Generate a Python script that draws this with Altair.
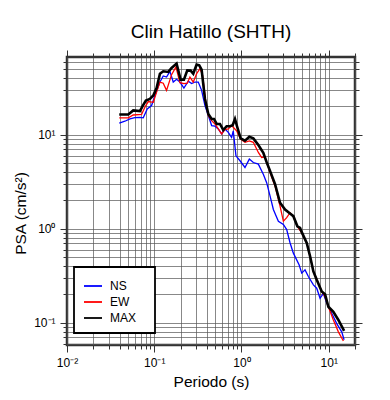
import altair as alt
import pandas as pd

# ---- data ----
series_names = ["NS", "EW", "MAX"]
series_colors = ["#0000ff", "#ff0000", "#000000"]

ns_period = [0.0397, 0.0461, 0.0526, 0.0600, 0.0685, 0.0748, 0.0831, 0.0932, 0.1018, 0.1162,
             0.1268, 0.1384, 0.1512, 0.1651, 0.1803, 0.1969, 0.2188, 0.2455, 0.2681, 0.2928,
             0.3197, 0.3491, 0.3812, 0.4166, 0.4548, 0.4966, 0.5421, 0.5918, 0.6461, 0.7054,
             0.7702, 0.8048, 0.8644, 0.9612, 1.0964, 1.2297, 1.3669, 1.5601, 1.779, 1.943,
             2.124, 2.319, 2.647, 3.020, 3.297, 3.600, 3.931, 4.572, 4.903, 5.350,
             5.842, 6.670, 7.282, 7.950, 8.680, 9.476, 10.82, 12.35, 14.09, 15.00]
ns_psa = [13.3, 13.9, 14.7, 15.2, 15.3, 15.1, 18.8, 20.4, 26.1, 36.3,
          42.1, 41.0, 47.2, 36.3, 38.8, 36.3, 31.3, 37.0, 35.0, 36.3,
          36.3, 29.6, 20.4, 16.0, 12.5, 12.3, 11.5, 10.2, 11.5, 10.6,
          9.36, 11.0, 5.96, 5.28, 4.48, 5.5, 5.06, 4.86, 3.8, 3.09,
          2.23, 1.60, 1.20, 1.11, 0.98, 0.71, 0.55, 0.414, 0.337, 0.365,
          0.31, 0.253, 0.233, 0.182, 0.205, 0.162, 0.126, 0.098, 0.080, 0.066]

ew_period = [0.0397, 0.0504, 0.0574, 0.0716, 0.0781, 0.0854, 0.0975, 0.1064, 0.1162, 0.1268,
             0.1384, 0.1580, 0.1773, 0.1969, 0.2188, 0.2391, 0.2566, 0.2800, 0.3059, 0.3340,
             0.3583, 0.3914, 0.4166, 0.4548, 0.4966, 0.5421, 0.5918, 0.6461, 0.7054, 0.7702,
             0.8048, 0.8786, 0.9775, 1.0964, 1.2297, 1.3669, 1.5601, 1.7035, 1.860, 2.124,
             2.424, 2.766, 3.020, 3.297, 3.600, 3.931, 4.371, 4.903, 5.595, 6.109,
             6.670, 7.282, 8.309, 9.072, 9.905, 11.30, 12.90, 14.72]
ew_psa = [15.1, 15.1, 16.2, 16.4, 19.6, 22.5, 22.1, 28.4, 36.3, 35.3,
          29.6, 43.5, 52.5, 35.7, 34.9, 35.3, 41.0, 36.3, 44.5, 50.4,
          42.8, 21.3, 16.0, 14.1, 13.0, 11.5, 10.2, 11.3, 11.5, 12.5,
          12.0, 11.0, 9.0, 8.3, 8.6, 8.3, 6.47, 5.72, 5.8, 3.95,
          2.85, 1.74, 1.20, 1.31, 1.48, 1.36, 1.06, 0.90, 0.707, 0.51,
          0.35, 0.29, 0.215, 0.19, 0.148, 0.107, 0.080, 0.064]

max_period = [0.0397, 0.0504, 0.0574, 0.0685, 0.0735, 0.0802, 0.0892, 0.0975, 0.1064, 0.1162,
              0.1268, 0.1449, 0.1580, 0.1803, 0.2004, 0.2188, 0.2391, 0.2611, 0.2800, 0.3059,
              0.3281, 0.3491, 0.3812, 0.4166, 0.4548, 0.4842, 0.5191, 0.5667, 0.6187, 0.6755,
              0.7375, 0.7917, 0.8420, 0.8955, 0.9775, 1.0964, 1.2297, 1.3669, 1.5601, 1.779,
              1.943, 2.124, 2.424, 2.766, 3.158, 3.600, 3.931, 4.371, 4.693, 4.903,
              5.595, 6.109, 6.670, 7.282, 8.309, 9.072, 9.905, 11.30, 12.90, 15.00]
max_psa = [16.4, 16.4, 18.1, 17.8, 20.1, 23.1, 24.0, 26.1, 31.3, 44.5,
           47.2, 46.5, 51.2, 57.0, 38.5, 38.5, 48.3, 48.0, 44.5, 55.6,
           54.7, 49.2, 24.0, 16.6, 14.7, 14.7, 13.0, 13.0, 11.2, 12.3,
           12.3, 12.6, 14.7, 12.0, 9.14, 8.63, 9.52, 9.14, 7.75, 6.4,
           5.1, 4.12, 2.97, 1.89, 1.60, 1.45, 1.36, 1.06, 1.02, 0.92,
           0.707, 0.509, 0.351, 0.286, 0.215, 0.201, 0.148, 0.131, 0.107, 0.082]

x_ticks = [0.01, 0.02, 0.03, 0.04, 0.05, 0.06, 0.07, 0.08, 0.09,
           0.1, 0.2, 0.3, 0.4, 0.5, 0.6, 0.7, 0.8, 0.9,
           1, 2, 3, 4, 5, 6, 7, 8, 9, 10, 20]
y_ticks = [0.06, 0.07, 0.08, 0.09,
           0.1, 0.2, 0.3, 0.4, 0.5, 0.6, 0.7, 0.8, 0.9,
           1, 2, 3, 4, 5, 6, 7, 8, 9, 10, 20, 30, 40, 50, 60]

rows = []
for name, per, vals in [("NS", ns_period, ns_psa), ("EW", ew_period, ew_psa), ("MAX", max_period, max_psa)]:
    for p, v in zip(per, vals):
        rows.append({"series": name, "period": p, "psa": v})
df = pd.DataFrame(rows)

FONT = "Liberation Sans"
major_test = "abs(log(datum.value)/LN10 - round(log(datum.value)/LN10)) < 0.000001"
tick_cond = {"condition": {"test": major_test, "value": 7}, "value": 4}
x_label_expr = ("datum.value == 0.01 ? '10⁻²' : datum.value == 0.1 ? '10⁻¹' : "
                "datum.value == 1 ? '10⁰' : datum.value == 10 ? '10¹' : ''")
y_label_expr = ("datum.value == 0.1 ? '10⁻¹' : datum.value == 1 ? '10⁰' : "
                "datum.value == 10 ? '10¹' : ''")

xscale = alt.Scale(type="log", domain=[0.01, 20], nice=False)
yscale = alt.Scale(type="log", domain=[0.058, 67], nice=False)

legend = alt.Legend(
    orient="none", legendX=7, legendY=210, title=None,
    fillColor="white", strokeColor="black", padding=9,
    symbolType="stroke", symbolSize=324, rowPadding=0, symbolStrokeWidth=1.8,
    labelFont=FONT, labelFontSize=12, labelOffset=7, labelColor="black",
    labelExpr="datum.label + '\u2800'",
)
color = alt.Color("series:N", scale=alt.Scale(domain=series_names, range=series_colors), legend=legend)

thin = alt.Chart(df).transform_filter("datum.series != 'MAX'").mark_line(clip=True, strokeWidth=1.3).encode(
    x=alt.X("period:Q", scale=xscale, axis=alt.Axis(
        values=x_ticks, labelExpr=x_label_expr, title="Periodo (s)",
        grid=True, tickSize=tick_cond, labelOverlap=False, labelFlush=False,
        labelPadding=5, titlePadding=6)),
    y=alt.Y("psa:Q", scale=yscale, axis=alt.Axis(
        values=y_ticks, labelExpr=y_label_expr, title="PSA (cm/s²)",
        grid=True, tickSize=tick_cond, labelOverlap=False, labelFlush=False,
        labelPadding=5, titleAngle=270, titleX=-47, titleY=156,
        titleAlign="center", titleBaseline="middle")),
    color=color,
)

thick = alt.Chart(df).transform_filter("datum.series == 'MAX'").mark_line(clip=True, strokeWidth=2.6).encode(
    x=alt.X("period:Q", scale=xscale, axis=None),
    y=alt.Y("psa:Q", scale=yscale, axis=None),
    color=color,
)

frame = alt.Chart(df).mark_point(opacity=0).encode(
    x=alt.X("period:Q", scale=xscale, axis=alt.Axis(
        orient="top", values=x_ticks, labels=False, grid=False, domain=False,
        title=None, tickSize=tick_cond)),
    y=alt.Y("psa:Q", scale=yscale, axis=alt.Axis(
        orient="right", values=y_ticks, labels=False, grid=False, domain=False,
        title=None, tickSize=tick_cond)),
)

chart = alt.layer(thin, thick, frame).resolve_axis(
    x="independent", y="independent"
).properties(
    width=288, height=288,
    title=alt.TitleParams("Clin Hatillo (SHTH)", font=FONT, fontSize=19,
                          fontWeight="normal", anchor="middle", color="black", offset=8),
    padding={"left": 59, "top": 49, "right": 20, "bottom": 50},
    autosize=alt.AutoSizeParams(type="none"),
).configure_view(
    stroke="#333333", strokeWidth=2.5
).configure_legend(
    strokeWidth=1.8
).configure_axis(
    domain=False, labelFont=FONT, labelFontSize=12, labelColor="black",
    titleFont=FONT, titleFontSize=15.5, titleFontWeight="normal", titleColor="black",
    tickColor="#333333", tickWidth=1, gridColor="#555555", gridWidth=0.7, gridOpacity=1,
)

chart.save("out.html", embed_options={"renderer": "svg", "actions": False})
